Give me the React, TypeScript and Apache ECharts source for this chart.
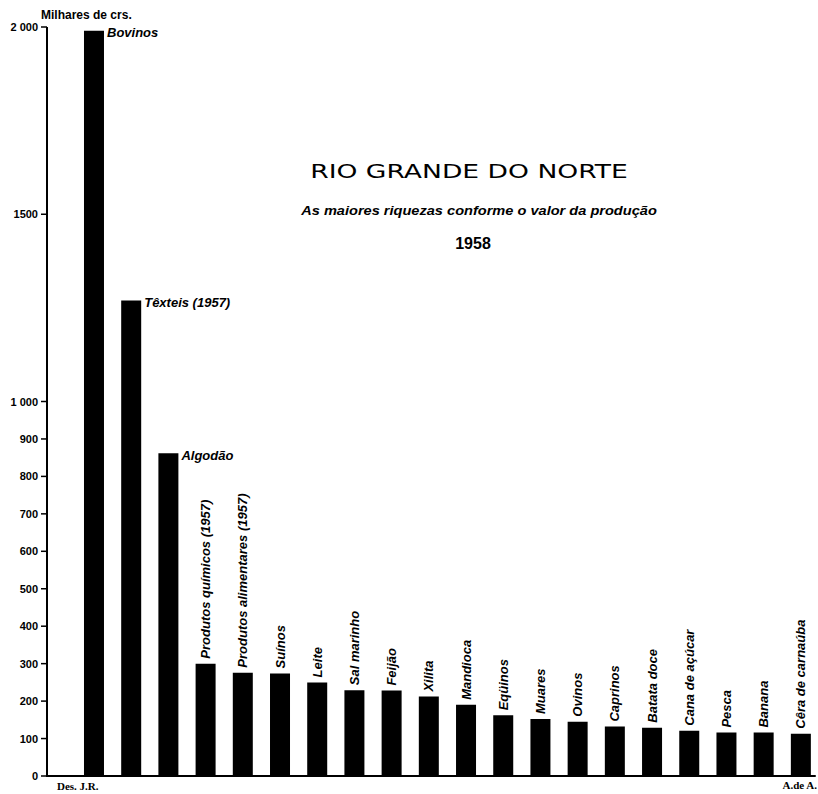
import React, { useEffect, useRef } from "react";
import * as echarts from "echarts";

const categories = [
  "Bovinos",
  "Têxteis (1957)",
  "Algodão",
  "Produtos químicos (1957)",
  "Produtos alimentares (1957)",
  "Suínos",
  "Leite",
  "Sal marinho",
  "Feijão",
  "Xilita",
  "Mandioca",
  "Eqüinos",
  "Muares",
  "Ovinos",
  "Caprinos",
  "Batata doce",
  "Cana de açúcar",
  "Pesca",
  "Banana",
  "Cêra de carnaúba",
];
const values = [1990, 1270, 862, 300, 276, 274, 250, 229, 228, 212, 190, 162, 152, 145, 132, 129, 121, 116, 116, 113];
const horizontalLabelCount = 3;
const yTickValues = [0, 100, 200, 300, 400, 500, 600, 700, 800, 900, 1000, 1500, 2000];
const yTickLabels: Record<number, string> = { 1000: "1 000", 2000: "2 000" };

const titleText = "RIO GRANDE DO NORTE";
const subtitleText = "As maiores riquezas conforme o valor da produção";
const yearText = "1958";
const unitText = "Milhares de crs.";
const creditLeft = "Des. J.R.";
const creditRight = "A.de A.";

// gap (in category slots) between the y axis and the first bar's centre
const leadGap = 1.263;

const labelFont = {
  fontFamily: "Liberation Sans",
  fontStyle: "italic" as const,
  fontWeight: "bold" as const,
  fontSize: 13,
  color: "#000",
};

export default function App() {
  const ref = useRef<HTMLDivElement>(null);
  useEffect(() => {
    if (!ref.current) return;
    const chart = echarts.init(ref.current, null, { renderer: "svg" });
    const barData = values.map((v, i) =>
      i < horizontalLabelCount
        ? {
            value: [i + leadGap, v],
            label: {
              position: [23, 2],
              rotate: 0,
              align: "left",
              verticalAlign: "middle",
            },
          }
        : { value: [i + leadGap, v] }
    );
    const texts: any[] = [
      {
        type: "text",
        x: 469,
        y: 171,
        scaleX: 1.33,
        style: {
          text: titleText,
          fontFamily: "DejaVu Sans",
          fontSize: 20,
          fill: "#000",
          textAlign: "center",
          textVerticalAlign: "middle",
        },
      },
      {
        type: "text",
        x: 479,
        y: 210,
        scaleX: 1.08,
        style: {
          text: subtitleText,
          fontFamily: "Liberation Sans",
          fontStyle: "italic",
          fontWeight: "bold",
          fontSize: 13.5,
          fill: "#000",
          textAlign: "center",
          textVerticalAlign: "middle",
        },
      },
      {
        type: "text",
        x: 473,
        y: 243,
        style: {
          text: yearText,
          fontFamily: "Liberation Sans",
          fontWeight: "bold",
          fontSize: 16,
          fill: "#000",
          textAlign: "center",
          textVerticalAlign: "middle",
        },
      },
      {
        type: "text",
        x: 41,
        y: 15,
        style: {
          text: unitText,
          fontFamily: "Liberation Sans",
          fontWeight: "bold",
          fontSize: 12,
          fill: "#000",
          textAlign: "left",
          textVerticalAlign: "middle",
        },
      },
      {
        type: "text",
        x: 57,
        y: 786,
        style: {
          text: creditLeft,
          fontFamily: "Liberation Serif",
          fontWeight: "bold",
          fontSize: 11,
          fill: "#000",
          textAlign: "left",
          textVerticalAlign: "middle",
        },
      },
      {
        type: "text",
        x: 817,
        y: 785,
        style: {
          text: creditRight,
          fontFamily: "Liberation Serif",
          fontWeight: "bold",
          fontSize: 11,
          fill: "#000",
          textAlign: "right",
          textVerticalAlign: "middle",
        },
      },
    ];
    chart.setOption({
      animation: false,
      backgroundColor: "#fff",
      grid: { left: 47, right: 3, top: 27, bottom: 18 },
      xAxis: {
        type: "value",
        min: 0,
        max: categories.length - 1 + leadGap + 0.38,
        axisLine: { show: true, onZero: false, lineStyle: { color: "#000", width: 2 } },
        axisTick: { show: false },
        axisLabel: { show: false },
        splitLine: { show: false },
      },
      yAxis: {
        type: "value",
        min: 0,
        max: 2000,
        interval: 100,
        axisLine: { show: false },
        axisTick: { show: false },
        axisLabel: {
          customValues: yTickValues,
          formatter: (v: number) => yTickLabels[v] ?? String(v),
          fontFamily: "Liberation Sans",
          fontWeight: "bold",
          fontSize: 11,
          color: "#000",
          margin: 9,
        },
        splitLine: { show: false },
      },
      series: [
        {
          type: "bar",
          data: barData,
          barWidth: 20,
          itemStyle: { color: "#000" },
          label: {
            show: true,
            position: "top",
            rotate: 90,
            align: "left",
            verticalAlign: "middle",
            distance: 5,
            ...labelFont,
            formatter: (p: any) => categories[p.dataIndex],
          },
        },
      ],
      graphic: texts,
    });

    // y axis line and ticks, positioned through the chart's own scales
    const bottom = chart.convertToPixel({ gridIndex: 0 }, [0, 0]) as number[];
    const top = chart.convertToPixel({ gridIndex: 0 }, [0, 2000]) as number[];
    const axisElems: any[] = [
      {
        type: "line",
        shape: { x1: bottom[0], y1: bottom[1] + 1, x2: top[0], y2: top[1] },
        style: { stroke: "#000", lineWidth: 2 },
        z: 10,
      },
    ];
    yTickValues.forEach((v) => {
      const p = chart.convertToPixel({ gridIndex: 0 }, [0, v]) as number[];
      axisElems.push({
        type: "line",
        shape: { x1: p[0] - 6, y1: p[1], x2: p[0], y2: p[1] },
        style: { stroke: "#000", lineWidth: 1.5 },
        z: 10,
      });
    });
    chart.setOption({ graphic: [...texts, ...axisElems] });

    return () => chart.dispose();
  }, []);
  return (
    <div
      ref={ref}
      style={{ position: "absolute", left: 0, top: 0, width: 818, height: 794 }}
    />
  );
}
